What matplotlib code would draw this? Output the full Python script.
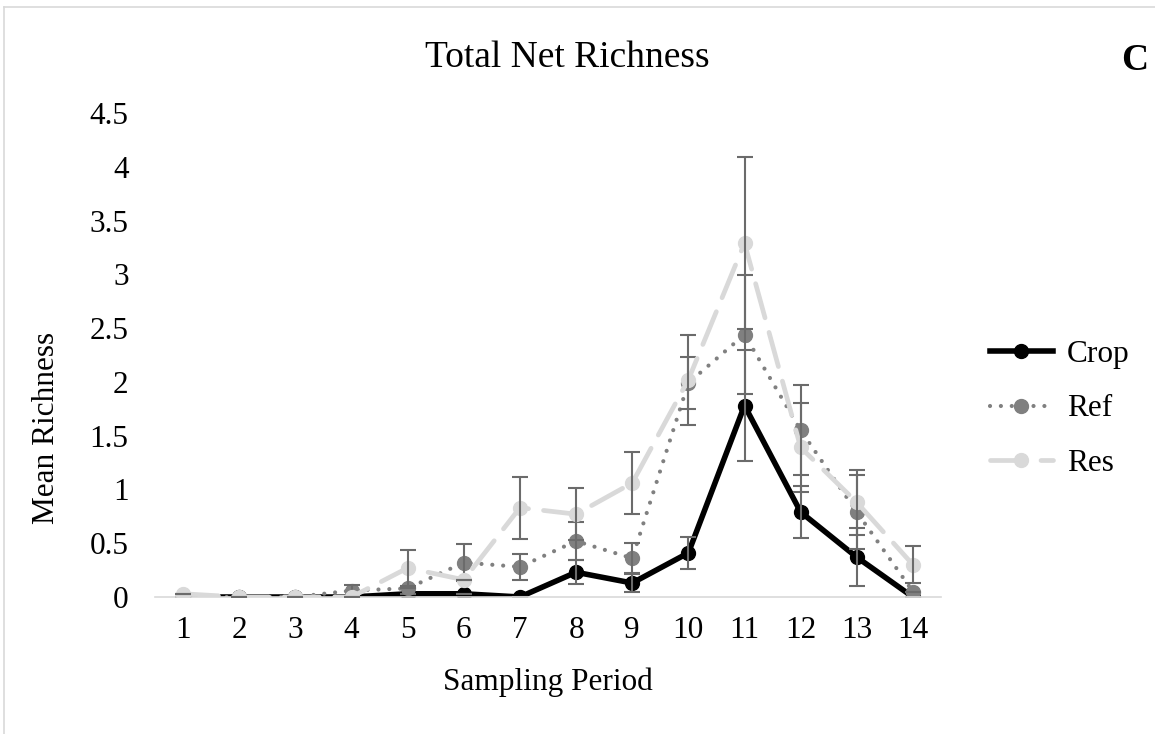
import matplotlib.pyplot as plt
from matplotlib.lines import Line2D

plt.rcParams["font.family"] = ["Liberation Serif", "DejaVu Serif"]

periods = list(range(1, 15))

crop_mean = [0.0, 0.0, 0.0, 0.0, 0.03, 0.03, 0.0, 0.23, 0.13, 0.41, 1.78, 0.79, 0.37, 0.0]
crop_err = [0.0, 0.0, 0.0, 0.0, 0.0, 0.0, 0.0, 0.11, 0.08, 0.15, 0.52, 0.24, 0.27, 0.0]

ref_mean = [0.0, 0.0, 0.0, 0.06, 0.08, 0.32, 0.28, 0.52, 0.36, 1.99, 2.44, 1.55, 0.79, 0.05]
ref_err = [0.0, 0.0, 0.0, 0.05, 0.0, 0.17, 0.12, 0.18, 0.14, 0.24, 0.55, 0.42, 0.34, 0.0]

res_mean = [0.03, 0.0, 0.0, 0.0, 0.27, 0.16, 0.83, 0.77, 1.06, 2.02, 3.29, 1.39, 0.88, 0.30]
res_err = [0.0, 0.0, 0.0, 0.0, 0.17, 0.0, 0.29, 0.24, 0.29, 0.42, 0.80, 0.41, 0.30, 0.17]

ERR_COLOR = "#6b6b6b"

fig = plt.figure(figsize=(11.55, 7.34), dpi=100)
ax = fig.add_axes([155 / 1155, 1 - 597 / 734, (941 - 155) / 1155, (597 - 113) / 734])

series = [
    ("Crop", crop_mean, crop_err, "black", "-", 4.0, 1),
    ("Ref", ref_mean, ref_err, "#808080", (0, (0.01, 2.6)), 3.0, 2),
    ("Res", res_mean, res_err, "#d9d9d9", (0, (7.5, 3.2)), 3.4, 3),
]

handles = []
for name, mean, err, color, ls, lw, z in series:
    ax.errorbar(periods, mean, yerr=err, fmt="none", ecolor=ERR_COLOR,
                elinewidth=1.5, capsize=6, capthick=1.5, zorder=z + 0.5)
    ax.plot(periods, mean, color=color, linestyle=ls, lw=lw,
            marker="o", markersize=10, dash_capstyle="round",
            solid_capstyle="round", zorder=z)
    handles.append(Line2D([], [], color=color, linestyle=ls, lw=lw, marker="o",
                          markersize=10, dash_capstyle="round", label=name))

ax.set_xlim(0.5, 14.5)
ax.set_ylim(0, 4.5)
ax.set_xticks(periods)
ax.set_yticks([0, 0.5, 1, 1.5, 2, 2.5, 3, 3.5, 4, 4.5])
ax.set_yticklabels(["0", "0.5", "1", "1.5", "2", "2.5", "3", "3.5", "4", "4.5"])
ax.tick_params(axis="both", length=0, labelsize=22.5)
ax.tick_params(axis="x", pad=14)
ax.tick_params(axis="y", pad=19)

for side in ["top", "right", "left"]:
    ax.spines[side].set_visible(False)
ax.spines["bottom"].set_color("#d9d9d9")
ax.spines["bottom"].set_linewidth(1.2)

fig.text(47 / 1155, 1 - 428 / 734, "Mean Richness", rotation=90,
         ha="center", va="center", fontsize=22.5)
fig.text(548 / 1155, 1 - 682 / 734, "Sampling Period",
         ha="center", va="center", fontsize=22.5)
fig.text(567 / 1155, 1 - 58 / 734, "Total Net Richness",
         ha="center", va="center", fontsize=27)
fig.text(1135 / 1155, 1 - 60 / 734, "C", ha="center", va="center",
         fontsize=27, fontweight="bold")

fig.legend(handles=handles, loc="center left",
           bbox_to_anchor=(990 / 1155, 1 - 409 / 734),
           frameon=False, fontsize=22.5, handlelength=2.0,
           handletextpad=0.45, labelspacing=0.82,
           borderpad=0, borderaxespad=0)

# thin light frame along the top and left edges
fig.add_artist(Line2D([4 / 1155, 1], [1 - 7 / 734, 1 - 7 / 734],
                      transform=fig.transFigure, color="#d9d9d9", lw=1.2))
fig.add_artist(Line2D([4 / 1155, 4 / 1155], [0, 1 - 7 / 734],
                      transform=fig.transFigure, color="#d9d9d9", lw=1.2))

fig.savefig("out.png", dpi=100)
